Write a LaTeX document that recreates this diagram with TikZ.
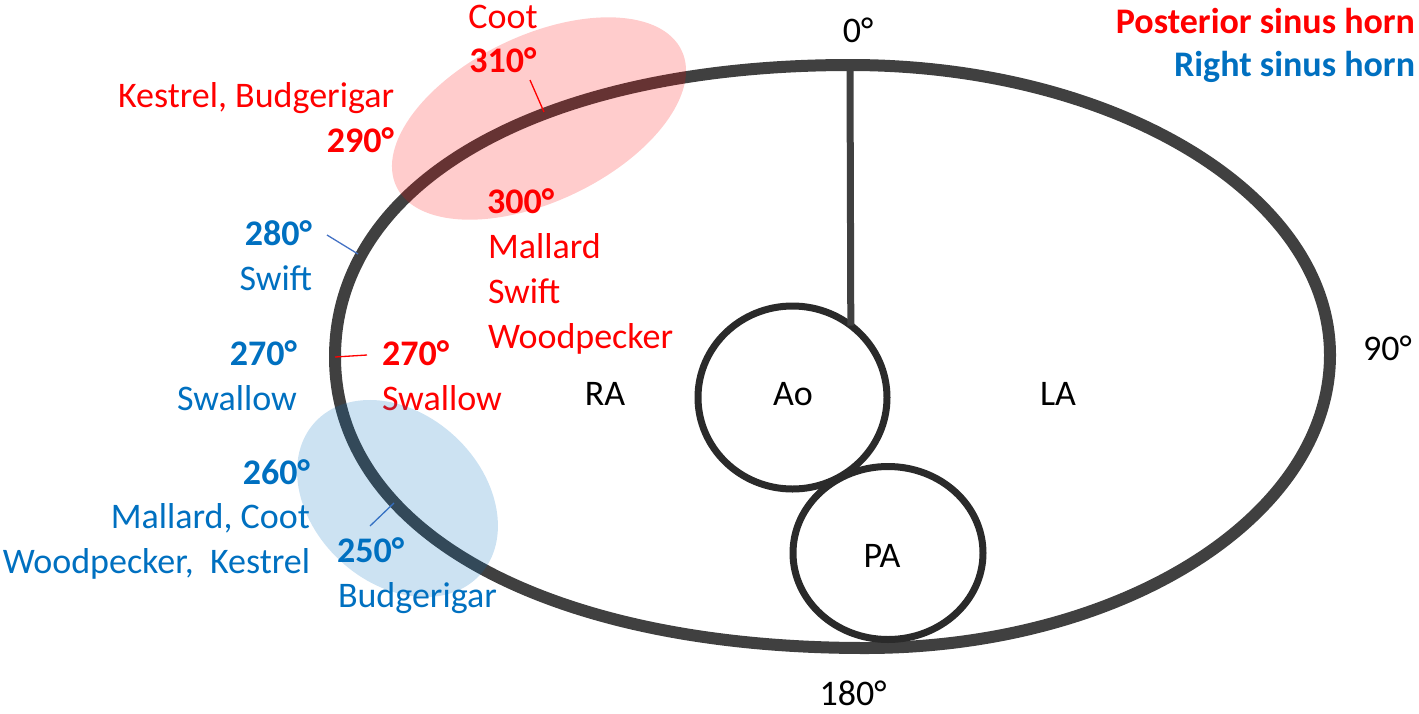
\documentclass[tikz,border=0pt]{standalone}
\usepackage{fontspec}
\setmainfont{Carlito}
\usetikzlibrary{shapes.geometric}
\definecolor{rd}{HTML}{FF0000}
\definecolor{bl}{HTML}{0070C0}
\definecolor{bltick}{HTML}{4472C4}
\definecolor{ln}{HTML}{404040}
\definecolor{vs}{HTML}{2A2A2A}
\begin{document}
\begin{tikzpicture}[x=1pt,y=-1pt,
  lbl/.style={inner sep=0pt, outer sep=0pt, font=\fontsize{36}{43}\selectfont},
  blk/.style={lbl, text=black},
  rr/.style={lbl, text=rd},
  rbold/.style={lbl, text=rd, font=\fontsize{36}{43}\selectfont\bfseries},
  bb/.style={lbl, text=bl},
  bbold/.style={lbl, text=bl, font=\fontsize{36}{43}\selectfont\bfseries},
  vessel/.style={draw=vs, line width=7pt, ellipse, inner sep=0pt, outer sep=0pt},
  rtick/.style={draw=rd, line width=1.3pt},
  btick/.style={draw=bltick, line width=1.3pt},
  horn/.style={fill opacity=0.2}
]
\useasboundingbox (0,0) rectangle (1419,713);

% main atrial outline
\coordinate (T) at (850,65);
\coordinate (L) at (335,357);
\coordinate (B) at (865,648);
\coordinate (R) at (1330,355);
\draw[ln, line width=12pt]
  (T) .. controls (541,65) and (335,181.8) .. (L)
      .. controls (335,531.6) and (547,648) .. (B)
      .. controls (1121.8,648) and (1330,516.8) .. (R)
      .. controls (1330,194.8) and (1115,65) .. (T) -- cycle;

% vessels
\node[vessel, minimum width=189pt, minimum height=183pt] (ao) at (792.5,397.5) {};
\node[vessel, minimum width=190pt, minimum height=173pt] (pa) at (888,553) {};
\draw[ln, line width=7pt] (T) -- (ao.51.6);

% ticks
\coordinate (t310a) at (530,80);
\coordinate (t310b) at (544,112);
\draw[rtick] (t310a) -- (t310b);
\coordinate (t270b) at (367,355);
\draw[rtick] (L) -- (t270b);
\coordinate (t280a) at (327,235);
\coordinate (t280b) at (358,254);
\draw[btick] (t280a) -- (t280b);
\coordinate (t250a) at (370,526);
\coordinate (t250b) at (394,503);
\draw[btick] (t250a) -- (t250b);

% black labels
\node[blk, anchor=base] (n0) at (858,42) {0°};
\node[blk, anchor=base west] (n90) at (1363,360) {90°};
\node[blk, anchor=base] (n180) at (853,705) {180°};
\node[blk, anchor=base] (nra) at (605,405) {RA};
\node[blk, anchor=base] (nao) at (793,405) {Ao};
\node[blk, anchor=base] (nla) at (1058,405) {LA};
\node[blk, anchor=base] (npa) at (882,567) {PA};

% legend
\node[rbold, anchor=base east] (leg1) at (1415,33) {Posterior sinus horn};
\node[bbold, anchor=base east] (leg2) at (1415,76) {Right sinus horn};

% posterior sinus horn labels
\node[rr, anchor=base] (rcoot) at (503,28) {Coot};
\node[rbold, anchor=base] (r310) at (503,72) {310°};
\node[rr, anchor=base east] (rkb) at (394,107) {Kestrel, Budgerigar};
\node[rbold, anchor=base east] (r290) at (394,152) {290°};
\node[rbold, anchor=base west] (r300) at (487,213) {300°};
\node[rr, anchor=base west] (rmal) at (488,258) {Mallard};
\node[rr, anchor=base west] (rswi) at (488,303) {Swift};
\node[rr, anchor=base west] (rwoo) at (488,348) {Woodpecker};
\node[rbold, anchor=base west] (r270) at (382,365) {270°};
\node[rr, anchor=base west] (rswa) at (382,410) {Swallow};

% right sinus horn labels
\node[bbold, anchor=base east] (b280) at (312,245) {280°};
\node[bb, anchor=base east] (bswi) at (312,290) {Swift};
\node[bbold, anchor=base east] (b270) at (297,365) {270°};
\node[bb, anchor=base east] (bswa) at (297,410) {Swallow};
\node[bbold, anchor=base east] (b260) at (310,484) {260°};
\node[bb, anchor=base east] (bmc) at (310,528) {Mallard, Coot};
\node[bb, anchor=base east] (bwk) at (310,573) {Woodpecker,\ \ Kestrel};
\node[bbold, anchor=base west] (b250) at (337,562) {250°};
\node[bb, anchor=base west] (bbud) at (338,607) {Budgerigar};

% translucent horn regions
\fill[rd, horn, rotate around={25.5:(539,118.5)}] (539,118.5) ellipse [x radius=158pt, y radius=83pt];
\fill[bl, horn, rotate around={-43:(397.5,498.5)}] (397.5,498.5) ellipse [x radius=112.4pt, y radius=84.6pt];
\end{tikzpicture}
\end{document}
